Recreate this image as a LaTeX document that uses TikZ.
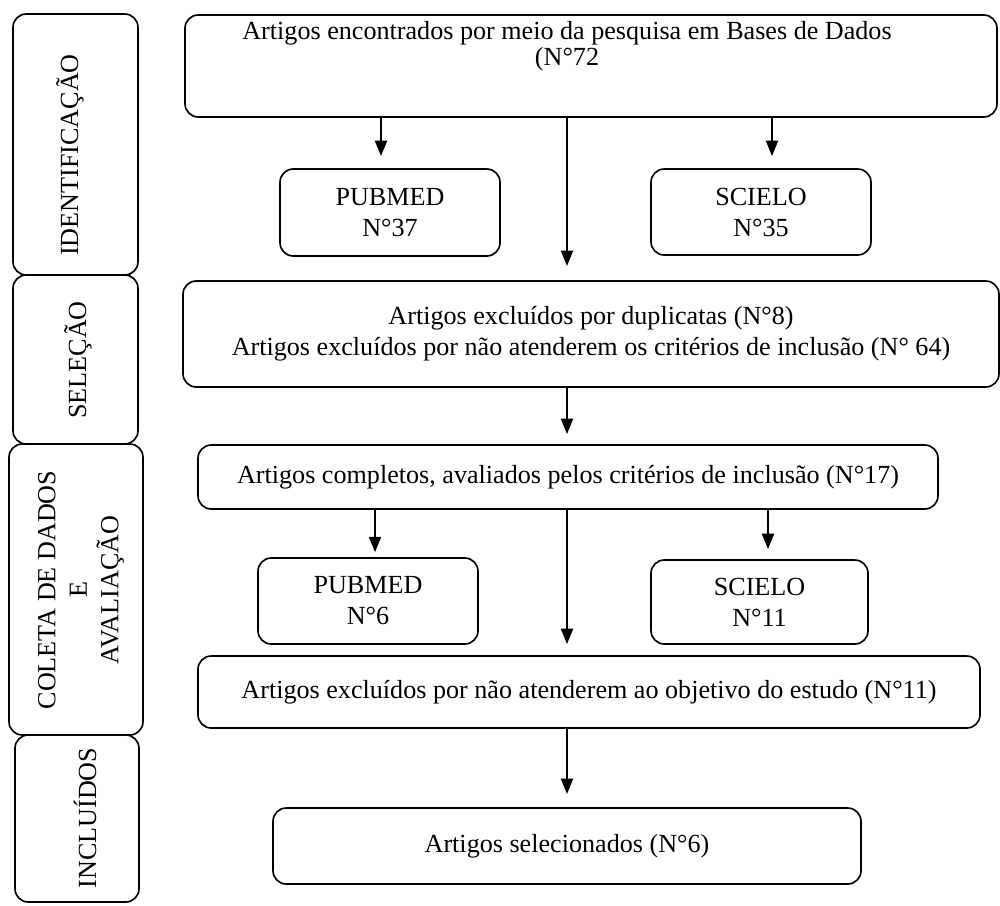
\documentclass[tikz,border=0pt]{standalone}
\usepackage{fontspec}
\setmainfont{Liberation Serif}
\usetikzlibrary{arrows.meta}

\begin{document}
\begin{tikzpicture}[x=0.49pt,y=-0.49pt,
  box/.style={draw,line width=0.8pt,rounded corners=6.5pt,inner sep=0pt},
  sz/.style 2 args={minimum width=#1*0.49pt,minimum height=#2*0.49pt},
  txt/.style={align=center,inner sep=0pt,font=\fontsize{12.8}{15.2}\selectfont},
  arr/.style={-{Triangle[width=6pt,length=7.5pt]},line width=0.6pt}]
  \useasboundingbox (0,0) rectangle (1000,905);

  % stages on the left
  \node[box,sz={125}{261}] (ident) at (75.5,144.5) {};
  \node[box,sz={125}{169}] (selec) at (75.5,359.5) {};
  \node[box,sz={134}{291}] (coleta) at (76,589.5) {};
  \node[box,sz={124}{167}] (incl) at (77,818.5) {};
  \node[txt,rotate=90] (identtxt) at (70,155) {IDENTIFICAÇÃO};
  \node[txt,rotate=90] (selectxt) at (78,360) {SELEÇÃO};
  \node[txt,rotate=90,font=\fontsize{12.8}{15.4}\selectfont] (coletatxt) at (81,590) {COLETA DE DADOS\\E\\AVALIAÇÃO};
  \node[txt,rotate=90] (incltxt) at (85,818) {INCLUÍDOS};

  % flow boxes
  \node[box,sz={812}{102}] (found) at (591,66) {};
  \node[txt,font=\fontsize{12.8}{9.6}\selectfont] (foundtxt) at (567,46) {Artigos encontrados por meio da pesquisa em Bases de Dados\\(N°72};
  \node[box,sz={220}{87},txt] (pub1) at (390,212.5) {PUBMED\\N°37};
  \node[box,sz={220}{86},txt] (sci1) at (761,212) {SCIELO\\N°35};
  \node[box,sz={816}{106},txt] (excl) at (591,334) {Artigos excluídos por duplicatas (N°8)\\Artigos excluídos por não atenderem os critérios de inclusão (N° 64)};
  \node[box,sz={740}{64},txt] (full) at (568,477) {Artigos completos, avaliados pelos critérios de inclusão (N°17)};
  \node[box,sz={220}{86},txt] (pub2) at (368,601) {PUBMED\\N°6};
  \node[box,sz={217}{84},txt] (sci2) at (759.5,602) {SCIELO\\N°11};
  \node[box,sz={782}{72},txt] (obj) at (589,692) {Artigos excluídos por não atenderem ao objetivo do estudo (N°11)};
  \node[box,sz={588}{76},txt] (final) at (567,846) {Artigos selecionados (N°6)};

  % arrow columns
  \coordinate (ca) at (381,0);
  \coordinate (cb) at (567,0);
  \coordinate (cc) at (772,0);
  \coordinate (cd) at (375,0);
  \coordinate (ce) at (768,0);

  \draw[arr,shorten >=6pt] (found.south -| ca) -- (pub1.north -| ca);
  \draw[arr,shorten >=6pt] (found.south -| cc) -- (sci1.north -| cc);
  \draw[arr,shorten >=7pt] (found.south -| cb) -- (excl.north -| cb);
  \draw[arr,shorten >=5pt] (excl.south -| cb) -- (full.north -| cb);
  \draw[arr,shorten >=2.5pt] (full.south -| cd) -- (pub2.north -| cd);
  \draw[arr,shorten >=5pt] (full.south -| ce) -- (sci2.north -| ce);
  \draw[arr,shorten >=5.5pt] (full.south -| cb) -- (obj.north -| cb);
  \draw[arr,shorten >=6.5pt] (obj.south -| cb) -- (final.north -| cb);
\end{tikzpicture}
\end{document}
